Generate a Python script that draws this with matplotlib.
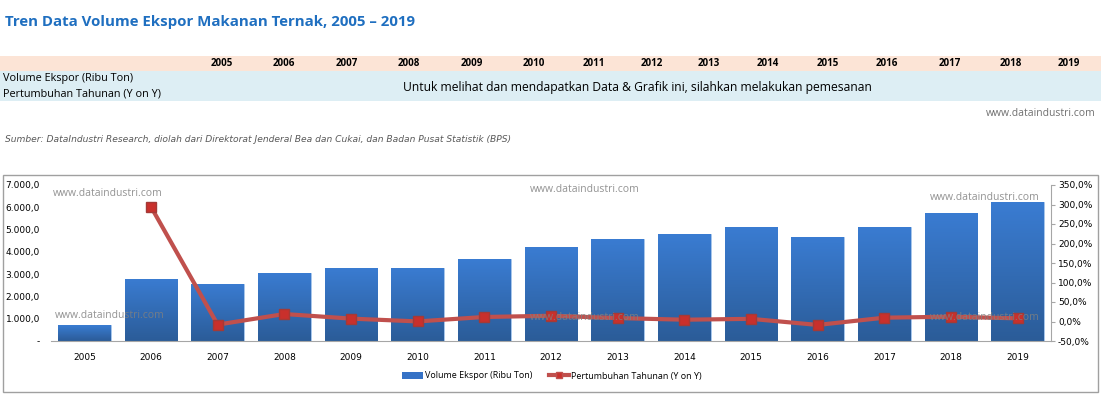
import numpy as np
import matplotlib.pyplot as plt
from matplotlib.patches import Rectangle
from matplotlib.lines import Line2D
from matplotlib.colors import LinearSegmentedColormap
from matplotlib.ticker import FuncFormatter, MultipleLocator

years = ['2005', '2006', '2007', '2008', '2009', '2010', '2011', '2012',
         '2013', '2014', '2015', '2016', '2017', '2018', '2019']
volume = [705, 2790, 2566, 3058, 3283, 3290, 3672, 4210,
          4581, 4792, 5119, 4671, 5130, 5759, 6224]
growth = [None, 294.0, -8.0, 19.2, 7.4, 0.2, 11.6, 14.7,
          8.8, 4.6, 6.8, -8.8, 9.8, 12.3, 8.1]
header_x = [222, 284, 347, 409, 472, 534, 594, 652, 709, 768, 828, 887, 950, 1011, 1069]

W, H = 1101, 398
FONT = 'Open Sans'
fig = plt.figure(figsize=(W / 100, H / 100), dpi=100)


def fx(x):
    return x / W


def fy(y):
    return 1 - y / H


# title + table header
fig.text(fx(5), fy(22), 'Tren Data Volume Ekspor Makanan Ternak, 2005 \u2013 2019',
         fontsize=10.8, fontweight='bold', color='#1F6FC0', family=FONT, va='center')
fig.patches.append(Rectangle((0, fy(71)), 1, (71 - 56) / H, transform=fig.transFigure,
                             facecolor='#FCE4D6', edgecolor='none', zorder=-5))
fig.patches.append(Rectangle((0, fy(101)), 1, (101 - 71) / H, transform=fig.transFigure,
                             facecolor='#DDEEF4', edgecolor='none', zorder=-5))
for xp, yr in zip(header_x, years):
    fig.text(fx(xp), fy(64), yr, fontsize=7, fontweight='bold', ha='center', va='center',
             family=FONT)
fig.text(fx(3), fy(79), 'Volume Ekspor (Ribu Ton)', fontsize=7.8, va='center', family=FONT)
fig.text(fx(3), fy(94), 'Pertumbuhan Tahunan (Y on Y)', fontsize=7.8, va='center', family=FONT)
fig.text(fx(637), fy(87), 'Untuk melihat dan mendapatkan Data & Grafik ini, silahkan melakukan pemesanan',
         fontsize=8.7, ha='center', va='center', family=FONT)
fig.text(fx(1096), fy(113), 'www.dataindustri.com', fontsize=7.5, color='#707070',
         ha='right', va='center', family=FONT)
fig.text(fx(5), fy(140), 'Sumber: DataIndustri Research, diolah dari Direktorat Jenderal Bea dan Cukai, '
         'dan Badan Pusat Statistik (BPS)', fontsize=6.6, style='italic', color='#595959',
         va='center', family='DejaVu Sans')

# chart frame
fig.patches.append(Rectangle((fx(3), fy(392)), fx(1095), (392 - 175) / H,
                             transform=fig.transFigure, facecolor='white',
                             edgecolor='#A0A0A0', lw=1, zorder=-5))

ax = fig.add_axes([fx(51), fy(341), fx(1051) - fx(51), (341 - 185) / H])
ax.patch.set_alpha(0)
x = np.arange(len(years))
bars = ax.bar(x, volume, width=0.79, color='#3572C6', edgecolor='#A9C8EC',
              linewidth=0.6, zorder=2)
grad = np.linspace(0, 1, 256).reshape(-1, 1)
cmap = LinearSegmentedColormap.from_list('b', ['#2B5C98', '#3A7CD2'])
for b in bars:
    im = ax.imshow(grad, cmap=cmap, origin='lower', aspect='auto', zorder=2.1,
                   extent=[b.get_x(), b.get_x() + b.get_width(), 0, b.get_height()])
    im.set_clip_path(b)
ax.set_xlim(-0.5, len(years) - 0.5)
ax.set_ylim(0, 7000)
ax.yaxis.set_major_locator(MultipleLocator(1000))
ax.yaxis.set_major_formatter(FuncFormatter(
    lambda v, p: '-' if v == 0 else f'{v:,.1f}'.replace(',', 'X').replace('.', ',').replace('X', '.')))
ax.set_xticks(x)
ax.set_xticklabels(years)
for s in ['top', 'left', 'right']:
    ax.spines[s].set_visible(False)
ax.spines['bottom'].set_color('#A6A6A6')
ax.spines['bottom'].set_zorder(3)
ax.tick_params(axis='x', length=0, labelsize=6.5, pad=9)
ax.tick_params(axis='y', length=0, labelsize=6.5, pad=8)

ax2 = ax.twinx()
gx = [i for i, g in enumerate(growth) if g is not None]
gy = [g for g in growth if g is not None]
ax2.plot(gx, gy, color='#C0504D', lw=3, marker='s', markersize=6.5,
         markerfacecolor='#C9302C', markeredgecolor='#A33A37', zorder=3)
ax2.set_ylim(-50, 350)
ax2.yaxis.set_major_locator(MultipleLocator(50))
ax2.yaxis.set_major_formatter(FuncFormatter(lambda v, p: f'{v:.1f}%'.replace('.', ',')))
for s in ['top', 'left', 'bottom']:
    ax2.spines[s].set_visible(False)
ax2.spines['right'].set_color('#A6A6A6')
ax2.tick_params(axis='y', length=3, color='#A6A6A6', labelsize=6.5, pad=2)

# watermarks
for (wx, wy) in [(53, 193), (530, 190), (930, 197), (55, 315), (530, 318), (930, 318)]:
    fig.text(fx(wx), fy(wy), 'www.dataindustri.com', fontsize=7.5, color='#808080',
             alpha=0.85, va='center', family=FONT, zorder=5)

handles = [Rectangle((0, 0), 1, 1, facecolor='#3572C6'),
           Line2D([], [], color='#C0504D', lw=3, marker='s', markersize=5,
                  markerfacecolor='#C9302C')]
fig.legend(handles, ['Volume Ekspor (Ribu Ton)', 'Pertumbuhan Tahunan (Y on Y)'],
           loc='center', bbox_to_anchor=(fx(552), fy(376)), ncol=2, frameon=False,
           handlelength=2.3, handletextpad=0.2, columnspacing=1.8,
           prop={'family': FONT, 'size': 6.5})

fig.savefig('out.png', dpi=100)
